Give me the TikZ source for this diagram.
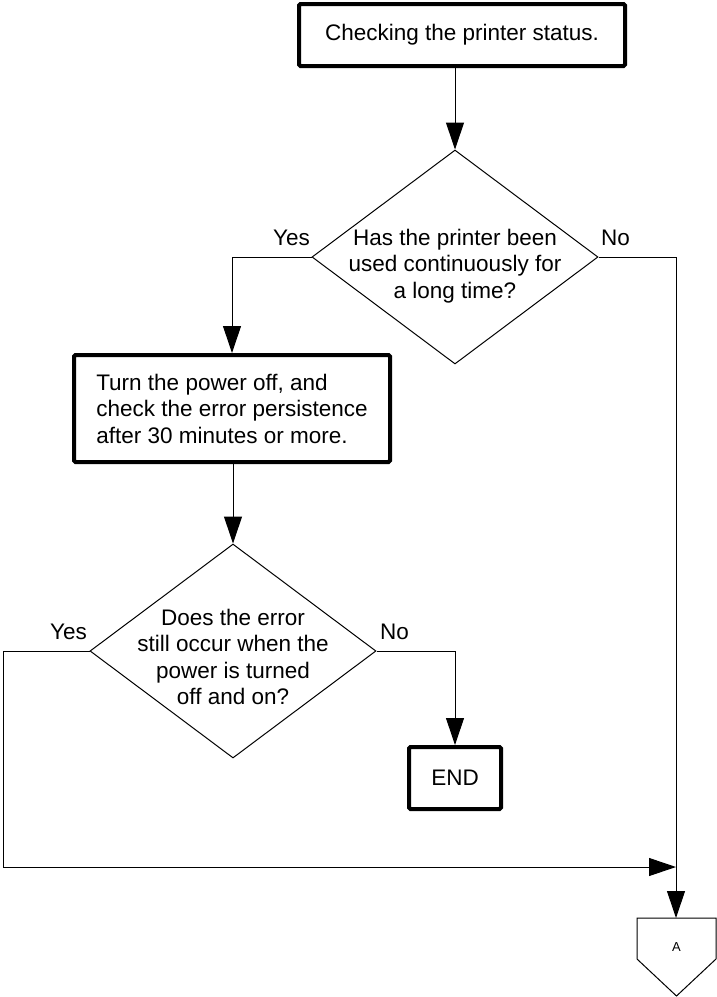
\documentclass[tikz,border=0pt]{standalone}
\usepackage{fontspec}
\setmainfont{Liberation Sans}
\usetikzlibrary{arrows.meta,shapes.geometric}
\begin{document}
\begin{tikzpicture}[x=1pt,y=-1pt,
  every node/.style={font=\fontsize{22.5}{26.5}\selectfont, inner sep=0pt},
  stepbox/.style={draw, line width=4pt, rectangle, rounded corners=1.5pt},
  decision/.style={draw, diamond, line width=1pt, minimum width=286pt, minimum height=214pt},
  arr/.style={-{Triangle[length=27pt,width=18pt]}, line width=1pt},
  link/.style={line width=1pt}]
\useasboundingbox (0,0) rectangle (717,997);

% process steps and decisions
\node[stepbox, minimum width=326pt, minimum height=62pt] (start) at (462,35) {Checking the printer status.};

\node[decision] (q1) at (455,257) {};
\node[align=center] (q1t) at (455,266) {Has the printer been\\used continuously for\\a long time?};
\node[anchor=base east] (q1yes) at (310,245) {Yes};
\node[anchor=base west] (q1no) at (601,245) {No};

\node[stepbox, minimum width=316pt, minimum height=107pt, align=left] (power) at (232,408.5)
  {Turn the power off, and\\check the error persistence\\after 30 minutes or more.};

\node[decision] (q2) at (233,651) {};
\node[align=center] (q2t) at (233,657) {Does the error\\still occur when the\\power is turned\\off and on?};
\node[anchor=base east] (q2yes) at (87,639) {Yes};
\node[anchor=base west] (q2no) at (380,639) {No};

\node[stepbox, minimum width=92pt, minimum height=62pt] (end) at (455,778) {END};

% off-page connector A
\coordinate (offA) at (676,918);
\draw[link] (637,918) -- (716,918) -- (716,959) -- (676.5,996) -- (637,959) -- cycle;
\node[font=\fontsize{13}{15}\selectfont] (atext) at (676.5,947) {A};

% connectors
\coordinate (yturn) at (3,867);
\coordinate (join) at (676,867);
\draw[arr] (start.south -| q1.north) -- (q1.north);
\draw[arr] (q1.west) -| (power.north);
\draw[arr] (power.south -| q2.north) -- (q2.north);
\draw[arr] (q2.east) -| (end.north);
\draw[arr] (q2.west) -| (yturn) -- (join);
\draw[arr] (q1.east) -| (offA);
\end{tikzpicture}
\end{document}
